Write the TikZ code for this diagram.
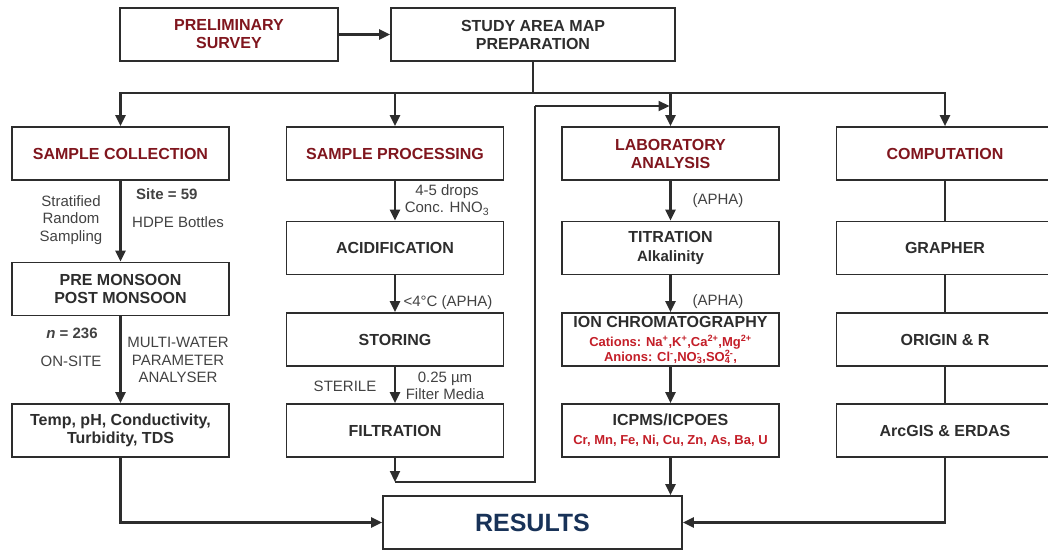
\documentclass[tikz,border=0pt]{standalone}
\usepackage{fontspec}
\setmainfont{Liberation Sans}
\usetikzlibrary{arrows.meta}
\definecolor{ink}{RGB}{45,45,45}
\definecolor{titlered}{RGB}{128,22,30}
\definecolor{ionred}{RGB}{196,30,40}
\definecolor{resblue}{RGB}{24,50,88}
\newcommand{\redline}[1]{{\color{ionred}\fontsize{13}{15}\selectfont #1}}
\newcommand{\subsup}[2]{\mbox{\ooalign{\textsubscript{#1}\cr\textsuperscript{#2}\cr}}}

\begin{document}
\begin{tikzpicture}[x=1pt, y=-1pt,
    box/.style={draw=ink, line width=1.7pt, fill=white, minimum width=217pt, minimum height=53pt,
                inner sep=0pt, align=center, text=ink, font=\bfseries\fontsize{16}{18}\selectfont},
    head/.style={box, text=titlered},
    link/.style={draw=ink, line width=2.2pt},
    arr/.style={link, -{Triangle[length=11pt, width=10pt]}},
    plain/.style={draw=ink, line width=1.3pt},
    note/.style={text=ink!90, inner sep=0pt, align=center, font=\fontsize{15}{17.5}\selectfont}]
    \useasboundingbox (0,0) rectangle (1048,550);

    \node[head, minimum width=218pt] (prelim) at (229,34.5) {PRELIMINARY\\SURVEY};
    \node[box, minimum width=284pt] (study) at (533,34.5) {STUDY AREA MAP\\PREPARATION};

    \node[head] (scol) at (120.5,153.5) {SAMPLE COLLECTION};
    \node[head] (sproc) at (395,153.5) {SAMPLE PROCESSING};
    \node[head] (lab) at (670.5,153.5) {LABORATORY\\ANALYSIS};
    \node[head] (comp) at (945,153.5) {COMPUTATION};

    \node[box] (pre) at (120.5,289) {PRE MONSOON\\POST MONSOON};
    \node[box] (temp) at (120.5,430.5) {Temp, pH, Conductivity,\\Turbidity, TDS};

    \node[box] (acid) at (395,248) {ACIDIFICATION};
    \node[box] (stor) at (395,339.5) {STORING};
    \node[box] (filt) at (395,430.5) {FILTRATION};

    \node[box] (tit) at (670.5,248) {TITRATION\\[1pt]{\fontsize{15}{17}\selectfont Alkalinity}};
    \node[box] (ion) at (670.5,339.5) {ION CHROMATOGRAPHY\\[1pt]
        \redline{Cations: Na\textsuperscript{+},K\textsuperscript{+},Ca\textsuperscript{2+},Mg\textsuperscript{2+}}\\[-3pt]
        \redline{Anions: Cl\textsuperscript{-},NO\subsup{3}{-},SO\subsup{4}{2-},}};
    \node[box] (icp) at (670.5,430.5) {ICPMS/ICPOES\\[1pt]\redline{Cr, Mn, Fe, Ni, Cu, Zn, As, Ba, U}};

    \node[box] (graph) at (945,248) {GRAPHER};
    \node[box] (orig) at (945,339.5) {ORIGIN \& R};
    \node[box] (arc) at (945,430.5) {ArcGIS \& ERDAS};

    \node[box, minimum width=299pt, text=resblue, font=\bfseries\fontsize{25}{28}\selectfont] (res) at (532.5,522.5) {RESULTS};

    \node[note, font=\bfseries\fontsize{15}{17}\selectfont, anchor=west] (site) at (136,194) {Site = 59};
    \node[note, anchor=west] (hdpe) at (132,222) {HDPE Bottles};
    \node[note] (strat) at (71,220) {Stratified\\Random\\Sampling};
    \node[note, font=\bfseries\fontsize{15}{17}\selectfont] (count) at (72,333) {\textit{n} = 236};
    \node[note] (onsite) at (71,361) {ON-SITE};
    \node[note] (multi) at (178,360) {MULTI-WATER\\PARAMETER\\ANALYSER};
    \node[note] (drops) at (447,200) {4-5 drops\\Conc. HNO\textsubscript{3}};
    \node[note] (cold) at (448,303) {<4°C (APHA)};
    \node[note] (sterile) at (345,386) {STERILE};
    \node[note] (media) at (445,386) {0.25 µm\\Filter Media};
    \node[note] (aphaA) at (718,201) {(APHA)};
    \node[note] (aphaB) at (718,302) {(APHA)};

    \coordinate (bus) at (533,93);
    \coordinate (drop) at (395,482);
    \coordinate (turn) at (535,106);

    \draw[arr] (prelim) -- (study);
    \draw[link] (study) -- (bus);
    \foreach \n in {scol,sproc,lab,comp}
        \draw[arr] (bus) -| (\n);

    \draw[arr] (scol) -- (pre);
    \draw[arr] (pre) -- (temp);
    \draw[arr] (temp) |- (res);

    \draw[arr] (sproc) -- (acid);
    \draw[arr] (acid) -- (stor);
    \draw[arr] (stor) -- (filt);
    \draw[arr] (filt) -- (drop);
    \draw[link] (drop) -| (turn);
    \draw[arr, shorten >=1pt] (turn) -- (turn -| lab);

    \draw[arr] (lab) -- (tit);
    \draw[arr] (tit) -- (ion);
    \draw[arr] (ion) -- (icp);
    \draw[arr] (icp) -- (icp |- res.north);

    \draw[plain] (comp) -- (graph);
    \draw[plain] (graph) -- (orig);
    \draw[plain] (orig) -- (arc);
    \draw[arr] (arc) |- (res);
\end{tikzpicture}
\end{document}
